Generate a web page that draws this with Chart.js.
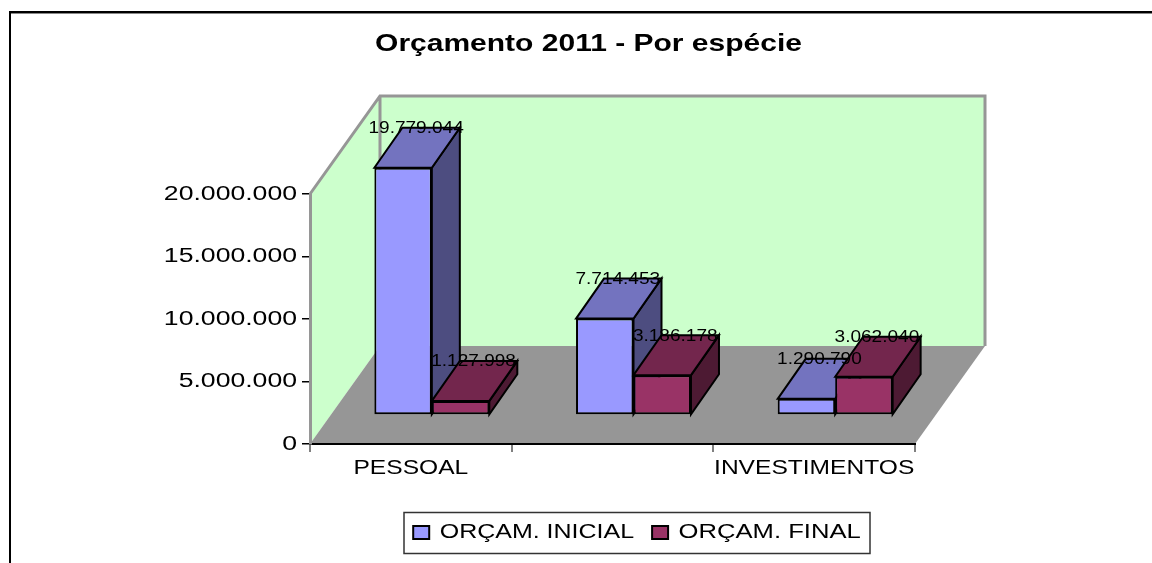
<!DOCTYPE html>
<html><head><meta charset="utf-8">
<style>html,body{margin:0;padding:0;background:#fff}canvas{display:block}</style>
<script src="https://cdn.jsdelivr.net/npm/chart.js@4"></script>
</head><body>
<div style="width:1152px;height:563px"><canvas id="c" width="1152" height="563"></canvas></div>
<script>
const titleText = "Orçamento 2011 - Por espécie";
const categories = ["PESSOAL", "", "INVESTIMENTOS"];
const seriesNames = ["ORÇAM. INICIAL", "ORÇAM. FINAL"];
const orcamInicial = [19779044, 7714453, 1290790];
const orcamFinal = [1127998, 3186178, 3062040];
const yTicks = [0, 5000000, 10000000, 15000000, 20000000];

const FONT = "'Liberation Sans', Arial, sans-serif";
const fmt = v => String(v).replace(/\B(?=(\d{3})+(?!\d))/g, ".");

const canvas = document.getElementById('c');
const ctx = canvas.getContext('2d');
// The reference's text is stretched horizontally: widen glyphs around their anchor.
function stretch(text, font) {
  const t = String(text);
  if (/bold/.test(font)) return 1.25;
  if (/^16px/.test(font)) return 1.19;
  if (/^21px/.test(font)) return /INICIAL/.test(t) ? 1.19 : /FINAL/.test(t) ? 1.22 : 1.17;
  return 1.33;
}
const rawFill = ctx.fillText.bind(ctx), rawMeasure = ctx.measureText.bind(ctx);
ctx.fillText = function (t, x, y) {
  const s = stretch(t, ctx.font);
  ctx.save(); ctx.translate(x, y); ctx.scale(s, 1); rawFill(t, 0, 0); ctx.restore();
};
ctx.measureText = function (t) {
  const m = rawMeasure(t);
  return { width: m.width * stretch(t, ctx.font) };
};

const DX = 28, DY = 40;           // bar depth
const SX = 21, SY = 29;           // bar offset from the front plane
const WX = 70, WY = 98;           // wall depth

function poly(c, pts, fill, stroke, lw) {
  c.beginPath();
  pts.forEach((p, i) => i ? c.lineTo(p[0], p[1]) : c.moveTo(p[0], p[1]));
  c.closePath();
  if (fill) { c.fillStyle = fill; c.fill(); }
  if (stroke) { c.strokeStyle = stroke; c.lineWidth = lw; c.lineJoin = 'miter'; c.stroke(); }
}

const scene = {
  id: 'scene',
  beforeLayout(chart) {
    const lg = chart.legend;
    if (!lg._fixed) {
      const f = lg.fit;
      lg.fit = function () { f.call(this); this.height = 30; };
      lg._fixed = true;
    }
  },
  afterLayout(chart) {
    const t = chart.titleBlock, l = chart.legend;
    t.left = 0; t.right = 1177; t.top = 32; t.bottom = 32 + t.height;
    l.left = 0; l.right = 1274; l.top = 504; l.bottom = 563;
  },
  beforeDraw(chart) {
    const c = chart.ctx, a = chart.chartArea;
    const L = a.left, R = a.right, T = a.top, B = a.bottom;
    c.save();
    c.fillStyle = '#fff'; c.fillRect(0, 0, 1152, 563);
    // outer frame
    c.fillStyle = '#000'; c.fillRect(9, 11, 1143, 2); c.fillRect(9, 11, 2, 552);
    c.fillStyle = '#888'; c.fillRect(11, 13, 1141, 1);
    // walls and floor
    poly(c, [[L, B], [L, T], [L + WX, T - WY], [R + WX, T - WY], [R + WX, B - WY], [L + WX, B - WY]], '#CCFFCC');
    poly(c, [[L, B], [R, B], [R + WX, B - WY], [L + WX, B - WY]], '#969696');
    c.strokeStyle = '#969696'; c.lineWidth = 3; c.lineCap = 'butt';
    c.beginPath();
    c.moveTo(L, T); c.lineTo(L + WX, T - WY); c.lineTo(R + WX, T - WY); c.lineTo(R + WX, B - WY);
    c.moveTo(L + WX, T - WY); c.lineTo(L + WX, B - WY);
    c.stroke();
    // legend frame
    c.strokeStyle = '#333'; c.lineWidth = 1.5;
    c.strokeRect(404, 512.5, 466, 41);
    c.restore();
  },
  // Draw the series front to back ourselves so the second series overlaps the first.
  beforeDatasetDraw() { return false; },
  beforeDatasetsDraw(chart) {
    const c = chart.ctx;
    chart.getSortedVisibleDatasetMetas().forEach(meta => {
      const ds = chart.data.datasets[meta.index];
      c.save();
      c.translate(SX, -SY);
      meta.data.forEach(el => {
        const l = el.x - el.width / 2, r = el.x + el.width / 2, t = el.y, b = el.base;
        poly(c, [[r, t], [r + DX, t - DY], [r + DX, b - DY], [r, b]], ds.sideColor, '#000', 2);
        poly(c, [[l, t], [l + DX, t - DY], [r + DX, t - DY], [r, t]], ds.topColor, '#000', 2);
      });
      meta.controller.draw();
      c.restore();
    });
  },
  afterDatasetsDraw(chart) {
    const c = chart.ctx;
    c.save();
    c.font = "16px " + FONT; c.fillStyle = '#000'; c.textAlign = 'center'; c.textBaseline = 'middle';
    chart.getSortedVisibleDatasetMetas().forEach(meta => {
      const vals = chart.data.datasets[meta.index].data;
      meta.data.forEach((el, i) => {
        c.fillText(fmt(vals[i]), el.x + SX + DX / 2 - 1, el.y - SY - DY + 1);
      });
    });
    c.restore();
  }
};

new Chart(ctx, {
  type: 'bar',
  data: {
    labels: categories,
    datasets: [
      { label: seriesNames[0], data: orcamInicial, backgroundColor: '#9999FF', borderColor: '#000', borderWidth: 2, borderSkipped: false,
        topColor: '#7373BF', sideColor: '#4D4D80',
        categoryPercentage: 0.57, barPercentage: 1 },
      { label: seriesNames[1], data: orcamFinal, backgroundColor: '#993366', borderColor: '#000', borderWidth: 2, borderSkipped: false,
        topColor: '#73264D', sideColor: '#4D1A33',
        categoryPercentage: 0.57, barPercentage: 1 }
    ]
  },
  options: {
    responsive: false, animation: false, devicePixelRatio: 1,
    layout: { padding: { left: 0, right: 237, top: 169, bottom: 29 } },
    plugins: {
      title: { display: true, text: titleText, color: '#000',
        font: { family: FONT, size: 24, weight: 'bold', lineHeight: 25 / 24 }, padding: 0 },
      legend: { display: true, position: 'bottom',
        labels: { font: { family: FONT, size: 21 }, color: '#000', boxWidth: 16, boxHeight: 13, padding: 18 } },
      tooltip: { enabled: false }
    },
    scales: {
      x: {
        afterFit(s) { s.height = 60; },
        border: { color: '#000', width: 2 },
        grid: { drawOnChartArea: false, drawTicks: true, tickLength: 8, color: '#808080', lineWidth: 2 },
        ticks: { autoSkip: false, maxRotation: 0, minRotation: 0, padding: 4, color: '#000', font: { family: FONT, size: 21 } }
      },
      y: {
        min: yTicks[0], max: yTicks[yTicks.length - 1],
        afterFit(s) { s.width = 310; },
        border: { color: '#969696', width: 3 },
        grid: { drawOnChartArea: false, drawTicks: true, tickLength: 8, color: '#000', lineWidth: 1.5 },
        ticks: { stepSize: yTicks[1] - yTicks[0], padding: 5, color: '#000', font: { family: FONT, size: 20 }, callback: v => fmt(v) }
      }
    }
  },
  plugins: [scene]
});
</script>
</body></html>
